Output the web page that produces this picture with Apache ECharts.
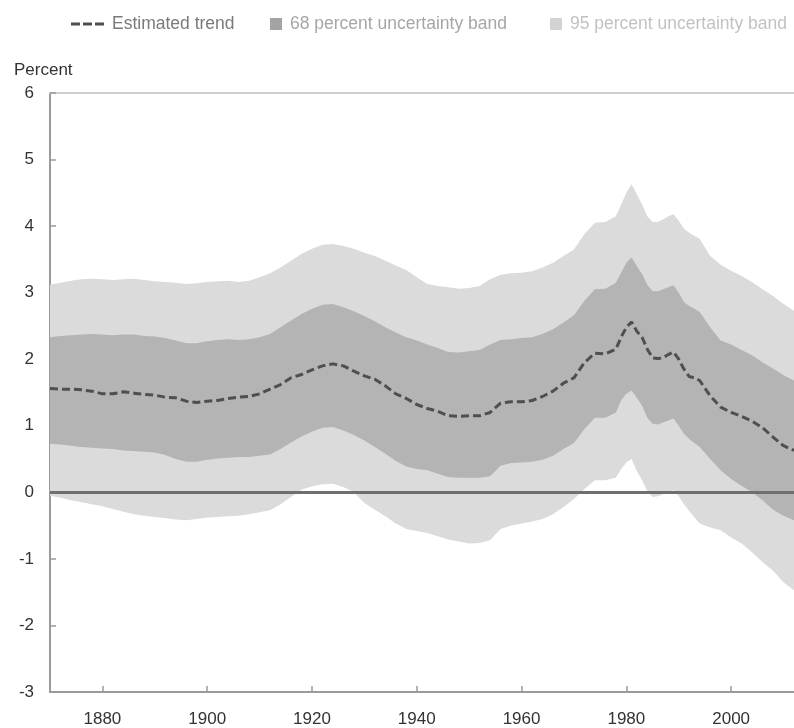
<!DOCTYPE html>
<html>
<head>
<meta charset="utf-8">
<script src="https://cdn.jsdelivr.net/npm/echarts@6/dist/echarts.min.js"></script>
<style>
html,body{margin:0;padding:0;background:#fff;}
#chart{width:794px;height:728px;}
</style>
</head>
<body>
<div id="chart"></div>
<script>
const years = [
  1870,1872,1874,1876,1878,1880,1882,1884,1886,1888,
  1890,1892,1894,1896,1898,1900,1902,1904,1906,1908,
  1910,1912,1914,1916,1918,1920,1922,1924,1926,1928,
  1930,1932,1934,1936,1938,1940,1942,1944,1946,1948,
  1950,1952,1954,1956,1958,1960,1962,1964,1966,1968,
  1970,1972,1974,1976,1978,
  1979,1980,1981,1982,1983,1984,1985,1986,1987,1988,1989,1990,1991,1992,1993,1994,
  1996,1998,2000,2002,2004,2006,2008,2010,2012
];
const trend = [
  1.56,1.55,1.55,1.54,1.52,1.48,1.48,1.51,1.49,1.47,
  1.46,1.43,1.42,1.37,1.35,1.37,1.38,1.41,1.43,1.44,
  1.48,1.55,1.62,1.72,1.77,1.84,1.90,1.93,1.90,1.82,
  1.75,1.70,1.60,1.48,1.41,1.32,1.26,1.22,1.15,1.14,
  1.15,1.15,1.20,1.34,1.36,1.36,1.38,1.44,1.52,1.64,
  1.72,1.95,2.09,2.08,2.15,
  2.33,2.48,2.56,2.42,2.33,2.15,2.02,2.01,2.02,2.07,2.11,2.00,1.85,1.74,1.72,1.68,
  1.45,1.28,1.20,1.14,1.07,0.97,0.83,0.70,0.63
];
const band68Upper = [
  2.33,2.35,2.36,2.37,2.38,2.37,2.36,2.37,2.37,2.35,
  2.34,2.32,2.28,2.24,2.24,2.27,2.29,2.30,2.29,2.30,
  2.33,2.38,2.48,2.58,2.68,2.76,2.82,2.83,2.78,2.72,
  2.65,2.57,2.48,2.40,2.33,2.28,2.22,2.17,2.11,2.10,
  2.12,2.14,2.22,2.29,2.30,2.32,2.33,2.38,2.45,2.55,
  2.66,2.88,3.05,3.06,3.15,
  3.30,3.45,3.53,3.40,3.28,3.12,3.02,3.02,3.05,3.08,3.11,3.00,2.86,2.80,2.76,2.71,
  2.48,2.28,2.22,2.14,2.06,1.95,1.86,1.76,1.68
];
const band68Lower = [
  0.73,0.72,0.70,0.68,0.67,0.66,0.65,0.63,0.62,0.61,
  0.60,0.56,0.50,0.46,0.46,0.49,0.51,0.52,0.53,0.53,
  0.55,0.57,0.65,0.75,0.84,0.91,0.97,0.98,0.93,0.86,
  0.78,0.68,0.58,0.47,0.39,0.35,0.33,0.28,0.23,0.22,
  0.22,0.22,0.24,0.40,0.44,0.45,0.46,0.49,0.55,0.65,
  0.74,0.95,1.12,1.12,1.20,
  1.38,1.48,1.53,1.42,1.30,1.12,1.03,1.02,1.05,1.08,1.11,1.00,0.88,0.80,0.74,0.68,
  0.50,0.33,0.20,0.10,0.00,-0.12,-0.26,-0.35,-0.42
];
const band95Upper = [
  3.12,3.15,3.18,3.20,3.21,3.20,3.19,3.20,3.21,3.19,
  3.17,3.16,3.15,3.13,3.14,3.16,3.17,3.18,3.16,3.18,
  3.23,3.29,3.38,3.48,3.58,3.66,3.72,3.73,3.70,3.66,
  3.60,3.55,3.48,3.41,3.34,3.23,3.13,3.10,3.08,3.06,
  3.07,3.10,3.20,3.27,3.29,3.30,3.32,3.38,3.45,3.55,
  3.65,3.88,4.05,4.06,4.15,
  4.32,4.50,4.63,4.48,4.33,4.15,4.06,4.06,4.10,4.15,4.18,4.08,3.96,3.90,3.85,3.81,
  3.55,3.42,3.33,3.25,3.16,3.05,2.95,2.83,2.73
];
const band95Lower = [
  -0.05,-0.08,-0.12,-0.15,-0.18,-0.21,-0.25,-0.29,-0.33,-0.35,
  -0.37,-0.39,-0.41,-0.42,-0.40,-0.38,-0.37,-0.36,-0.35,-0.33,
  -0.30,-0.27,-0.18,-0.07,0.04,0.09,0.12,0.13,0.08,0.00,
  -0.16,-0.26,-0.36,-0.47,-0.55,-0.58,-0.61,-0.66,-0.71,-0.74,
  -0.77,-0.76,-0.72,-0.55,-0.50,-0.47,-0.44,-0.40,-0.33,-0.22,
  -0.10,0.05,0.18,0.18,0.22,
  0.35,0.45,0.50,0.32,0.18,0.02,-0.07,-0.06,-0.03,0.00,0.03,-0.06,-0.18,-0.28,-0.38,-0.47,
  -0.53,-0.57,-0.68,-0.77,-0.90,-1.05,-1.18,-1.35,-1.47
];
const xTicks = [1880,1900,1920,1940,1960,1980,2000];

const pairs = (vals) => years.map((y, i) => [y, vals[i]]);
const bandData = (lo, hi) => years.map((y, i) => [y, lo[i], hi[i]]);

// Draws the whole band as one polygon, positions from the grid's scales
function bandRenderer(lo, hi, fill) {
  return function (params, api) {
    if (params.dataIndex !== 0) return;
    const pts = [];
    for (let i = 0; i < years.length; i++) pts.push(api.coord([years[i], hi[i]]));
    for (let i = years.length - 1; i >= 0; i--) pts.push(api.coord([years[i], lo[i]]));
    return {type: 'polygon', shape: {points: pts}, style: {fill: fill, stroke: null}};
  };
}

const FONT = '"Liberation Sans", Arial, sans-serif';
const chart = echarts.init(document.getElementById('chart'), null, {renderer: 'canvas'});

const legendBase = {
  top: 10,
  orient: 'horizontal',
  selectedMode: false,
  textStyle: {fontFamily: FONT, fontSize: 17.5, padding: [0, 0, 0, 3]}
};

chart.setOption({
  animation: false,
  backgroundColor: '#ffffff',
  title: {
    text: 'Percent', left: 9, top: 57,
    textStyle: {fontFamily: FONT, fontSize: 17, fontWeight: 'normal', color: '#333'}
  },
  legend: [
    Object.assign({}, legendBase, {
      left: 66, itemWidth: 33, itemHeight: 3,
      data: [{name: 'Estimated trend',
              icon: 'path://M0,0h9v3h-9z M12,0h9v3h-9z M24,0h9v3h-9z',
              itemStyle: {color: '#4f4f4f'},
              textStyle: {color: '#7a7a7a'}}]
    }),
    Object.assign({}, legendBase, {
      left: 265, itemWidth: 12, itemHeight: 12,
      data: [{name: '68 percent uncertainty band', icon: 'rect',
              itemStyle: {color: '#a3a3a3', opacity: 1}, textStyle: {color: '#a6a6a6'}}]
    }),
    Object.assign({}, legendBase, {
      left: 545, itemWidth: 12, itemHeight: 12,
      data: [{name: '95 percent uncertainty band', icon: 'rect',
              itemStyle: {color: '#d2d2d2', opacity: 1}, textStyle: {color: '#c2c2c2'}}]
    })
  ],
  grid: {left: 50, right: 0, top: 93, bottom: 36, containLabel: false},
  xAxis: [{
    type: 'value', min: 1870, max: 2012,
    axisLine: {show: true, onZero: false, lineStyle: {color: '#9a9a9a', width: 2}},
    axisTick: {show: true, inside: true, length: 6, customValues: xTicks, lineStyle: {color: '#9a9a9a', width: 1.5}},
    axisLabel: {show: true, customValues: xTicks, margin: 19, fontFamily: FONT, fontSize: 17, color: '#333',
                formatter: (v) => String(v)},
    splitLine: {show: false}
  }, {
    type: 'value', min: 1870, max: 2012, position: 'top',
    axisLine: {show: true, onZero: false, lineStyle: {color: '#cfcfcf', width: 2}},
    axisTick: {show: false}, axisLabel: {show: false}, splitLine: {show: false}
  }],
  yAxis: {
    type: 'value', min: -3, max: 6, interval: 1,
    axisLine: {show: true, onZero: false, lineStyle: {color: '#9a9a9a', width: 2}},
    axisTick: {show: true, inside: true, length: 6, lineStyle: {color: '#9a9a9a', width: 1.5}},
    axisLabel: {margin: 16, fontFamily: FONT, fontSize: 17, color: '#333'},
    splitLine: {show: false}
  },
  series: [
    {
      name: '95 percent uncertainty band', type: 'custom',
      data: bandData(band95Lower, band95Upper),
      encode: {x: 0, y: [1, 2]},
      renderItem: bandRenderer(band95Lower, band95Upper, '#dbdbdb'),
      itemStyle: {color: '#d2d2d2'}, silent: true, z: 1
    },
    {
      name: '68 percent uncertainty band', type: 'custom',
      data: bandData(band68Lower, band68Upper),
      encode: {x: 0, y: [1, 2]},
      renderItem: bandRenderer(band68Lower, band68Upper, '#b4b4b4'),
      itemStyle: {color: '#a3a3a3'}, silent: true, z: 2,
      markLine: {
        silent: true, symbol: ['none', 'none'], label: {show: false},
        lineStyle: {color: '#6f6f6f', width: 3, type: 'solid'},
        data: [{yAxis: 0}]
      }
    },
    {
      name: 'Estimated trend', type: 'line',
      data: pairs(trend), symbol: 'none', silent: true,
      itemStyle: {color: '#4f4f4f'},
      lineStyle: {color: '#4f4f4f', width: 3, type: [8, 4]}, z: 5
    }
  ]
});
</script>
</body>
</html>
